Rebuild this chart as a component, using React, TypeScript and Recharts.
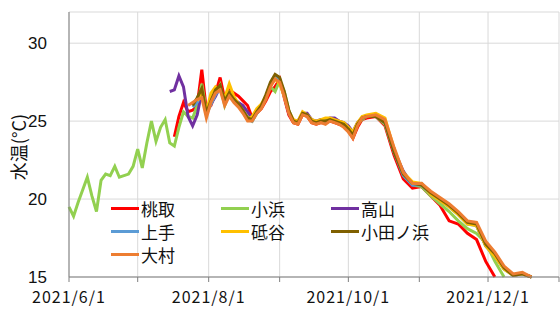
import React from 'react';
import { LineChart, Line, XAxis, YAxis, CartesianGrid, Legend } from 'recharts';

const FONT = '"Noto Sans CJK JP", "Noto Sans", sans-serif';
const NUM_FONT = '"Liberation Sans", Arial, sans-serif';

// day offsets from 2021/6/1
const days = [
  0, 2, 4, 6, 8, 10, 12, 14, 16, 18, 20, 22, 24, 26, 28, 30, 32, 34, 36, 38,
  40, 42, 44, 46, 48, 50, 52, 54, 56, 58, 60, 62, 64, 66, 68, 70, 72, 74, 76, 78,
  80, 82, 84, 86, 88, 90, 92, 94, 96, 98, 100, 102, 104, 106, 108, 110, 112, 114, 116, 118,
  120, 122, 124, 126, 128, 130,
  134, 138, 142, 146, 150, 154, 158, 162, 166, 170, 174, 178, 182, 186, 190, 194, 198, 202,
];

const monthTicks = [0, 30, 61, 92, 122, 153, 183, 214];
const tickLabels: Record<number, string> = { 0: '2021/6/1', 61: '2021/8/1', 122: '2021/10/1', 183: '2021/12/1' };
const yTicks = [15, 20, 25, 30];

const pad = (n: number) => Array(n).fill(null);

const momotori = [
  ...pad(23),
  24.0, 25.3, 26.2, 25.6, 25.7, 26.0, 28.3, 25.7, 26.0, 26.8,
  27.8, 26.4, 27.0, 26.8, 26.6, 26.3, 26.0, 25.2, 25.5, 25.8,
  26.3, 26.9, 27.2, 27.7, 26.5, 25.4, 24.9, 24.8, 25.4, 25.3,
  24.9, 24.8, 24.9, 24.9, 25.0, 24.9, 24.8, 24.7, 24.4, 23.9,
  24.6, 25.1, 25.2,
  25.3, 24.7, 22.8, 21.3, 20.7, 20.8, 20.2, 19.6, 18.6, 18.4, 17.8, 17.4, 16.0, 15.0,
  ...pad(4),
];

const obama = [
  19.5, 18.9, 19.8, 20.6, 21.4, 20.2, 19.2, 21.2, 21.6, 21.5,
  22.1, 21.4, 21.5, 21.6, 22.1, 23.2, 22.0, 23.6, 25.0, 23.7,
  24.6, 25.1, 23.6, 23.4, 24.6, 25.6, 25.3, 25.2, 26.0, 27.4,
  25.6, 26.1, 26.7, 27.3, 26.0, 26.8, 26.3, 26.0, 25.6, 25.3,
  25.0, 25.5, 25.9, 26.5, 27.2, 26.9, 27.6, 26.9, 25.7, 25.0,
  24.9, 25.5, 25.3, 25.0, 24.9, 25.0, 25.0, 25.1, 25.0, 24.9,
  24.8, 24.5, 24.2, 24.8, 25.1, 25.3,
  25.3, 24.8, 23.0, 21.6, 20.9, 20.8, 20.2, 19.7, 19.2, 18.6, 18.1, 17.8, 17.2, 16.0, 15.0,
  ...pad(3),
];

const takayama = [
  ...pad(22),
  26.9, 27.0, 27.9, 27.2, 25.3, 24.7, 25.4, 26.9, 25.6, 26.1,
  26.6, 27.2, 26.3, 26.7, 26.4, 26.2, 26.0, 25.6, 25.2, 25.5,
  25.9, 26.5, 27.3, 27.8, 27.6, 26.7, 25.5, 25.0, 25.0, 25.5,
  25.5, 25.1, 25.0, 25.1, 25.1, 25.2, 25.2, 25.0, 24.9, 24.7,
  24.3, 24.9, 25.2, 25.3,
  25.4, 25.0, 23.1, 21.8, 20.9, 21.0, 20.4, 20.0, 19.6, 19.1, 18.5, 18.3, 17.0, 16.4, 15.6, 15.1, 15.2, 15.0,
];

const kamite = [
  ...pad(27),
  25.9, 26.2, 26.8, 25.4, 26.1, 26.7, 27.1, 26.2, 26.6, 26.3,
  26.0, 25.6, 25.1, 25.0, 25.5, 25.9, 26.6, 27.4, 27.9, 27.7,
  26.6, 25.6, 25.0, 24.9, 25.5, 25.4, 25.0, 24.9, 25.0, 25.0,
  25.1, 25.0, 24.9, 24.8, 24.5, 24.1, 24.8, 25.2, 25.3,
  25.3, 24.9, 23.0, 21.5, 20.9, 20.9, 20.3, 19.9, 19.5, 19.0, 18.4, 18.3, 17.0, 16.3, 15.5, 15.1, 15.2, 15.0,
];

const toya = [
  ...pad(28),
  26.3, 26.9, 25.6, 26.8, 27.2, 27.0, 26.5, 27.4, 26.6, 26.1,
  25.6, 25.1, 25.3, 25.8, 26.1, 26.6, 27.3, 27.7, 27.4, 26.6,
  25.6, 25.1, 25.0, 25.6, 25.4, 25.1, 25.0, 25.1, 25.2, 25.2,
  25.1, 25.0, 24.9, 24.6, 24.3, 24.9, 25.3, 25.4,
  25.5, 25.2, 23.2, 21.7, 21.1, 21.0, 20.3, 19.9, 19.5, 19.0, 18.4, 18.3, 17.0, 16.3, 15.5, 15.1, 15.2, 15.0,
];

const odanohama = [
  ...pad(27),
  26.0, 26.5, 27.1, 25.5, 26.3, 27.0, 27.3, 26.3, 26.8, 26.4,
  26.1, 25.7, 25.2, 25.1, 25.6, 26.0, 26.7, 27.5, 28.0, 27.8,
  26.9, 25.7, 25.0, 24.9, 25.5, 25.4, 25.0, 24.9, 25.0, 25.0,
  25.1, 25.0, 24.9, 24.8, 24.5, 24.1, 24.8, 25.2, 25.3,
  25.3, 24.9, 23.0, 21.6, 21.0, 20.9, 20.4, 20.0, 19.6, 19.1, 18.5, 18.4, 17.1, 16.5, 15.6, 15.1, 15.2, 15.0,
];

const omura = [
  ...pad(26),
  26.0, 26.2, 26.4, 26.5, 25.2, 26.2, 26.8, 27.0, 26.0, 26.6,
  26.2, 25.9, 25.5, 25.0, 25.0, 25.5, 25.8, 26.4, 27.2, 27.7,
  27.5, 26.6, 25.5, 24.9, 24.8, 25.4, 25.3, 24.9, 24.8, 24.9,
  24.8, 25.0, 24.9, 24.8, 24.6, 24.3, 23.9, 24.7, 25.2, 25.3,
  25.4, 25.1, 23.3, 21.7, 21.0, 21.0, 20.5, 20.1, 19.7, 19.2, 18.6, 18.5, 17.3, 16.6, 15.7, 15.2, 15.3, 15.0,
];

const seriesNames = ['桃取', '小浜', '高山', '上手', '砥谷', '小田ノ浜', '大村'];
const seriesValues = [momotori, obama, takayama, kamite, toya, odanohama, omura];
const seriesColors = ['#FF0000', '#92D050', '#7030A0', '#5B9BD5', '#FFC000', '#7F6000', '#ED7D31'];

const data = days.map((d, i) => {
  const row: Record<string, number | null> = { day: d };
  seriesNames.forEach((n, k) => {
    const v = seriesValues[k][i];
    row[n] = v === undefined ? null : v;
  });
  return row;
});

const renderLegend = (props: any) => {
  const payload = [...(props.payload || [])].sort(
    (a: any, b: any) => seriesNames.indexOf(a.value) - seriesNames.indexOf(b.value)
  );
  return (
    <div style={{ display: 'grid', gridTemplateColumns: '110px 110px 110px', fontFamily: FONT }}>
      {payload.map((p: any) => (
        <div key={p.value} style={{ display: 'flex', alignItems: 'center', height: 23 }}>
          <span style={{ display: 'inline-block', width: 28, height: 3, background: p.color, marginRight: 2 }} />
          <span style={{ fontSize: 17, color: '#111', lineHeight: '20px' }}>{p.value}</span>
        </div>
      ))}
    </div>
  );
};

const XTick = (props: any) => {
  const { x, y, payload } = props;
  const label = tickLabels[payload.value];
  if (!label) return null;
  return (
    <text x={x} y={y} dy={14} textAnchor="middle" fill="#111" fontSize={16} letterSpacing={1} fontFamily={FONT}>
      {label}
    </text>
  );
};

export default function App() {
  return (
    <div style={{ position: 'absolute', left: 0, top: 0, width: 560, height: 309, background: '#fff' }}>
      <LineChart
        width={560}
        height={309}
        data={data}
        margin={{ top: 12, right: 1, left: 0, bottom: 0 }}
        style={{ fontFamily: FONT }}
      >
        <CartesianGrid stroke="#d9d9d9" strokeWidth={1} />
        <XAxis
          dataKey="day"
          type="number"
          domain={[0, 214]}
          ticks={monthTicks}
          interval={0}
          height={32}
          stroke="#7f7f7f"
          tickSize={5}
          tickMargin={7}
          tick={<XTick />}
        />
        <YAxis
          type="number"
          domain={[15, 32]}
          ticks={yTicks}
          interval={0}
          width={69}
          stroke="#7f7f7f"
          tickLine={false}
          tickSize={6}
          tickMargin={16}
          tick={{ fill: '#111', fontSize: 17, fontFamily: NUM_FONT }}
          label={{
            content: () => (
              <text
                x={18}
                y={147}
                transform="rotate(-90 18 147)"
                textAnchor="middle"
                dominantBaseline="central"
                fontSize={18}
                fill="#111"
                fontFamily={FONT}
              >
                水温(°C)
              </text>
            ),
          }}
        />
        <Legend
          content={renderLegend}
          layout="horizontal"
          verticalAlign="middle"
          align="center"
          wrapperStyle={{ position: 'absolute', left: 111, top: 197, width: 340 }}
        />
        {seriesNames.map((n, k) => (
          <Line
            key={n}
            type="linear"
            dataKey={n}
            name={n}
            stroke={seriesColors[k]}
            strokeWidth={3}
            dot={false}
            isAnimationActive={false}
            connectNulls={false}
          />
        ))}
      </LineChart>
    </div>
  );
}
